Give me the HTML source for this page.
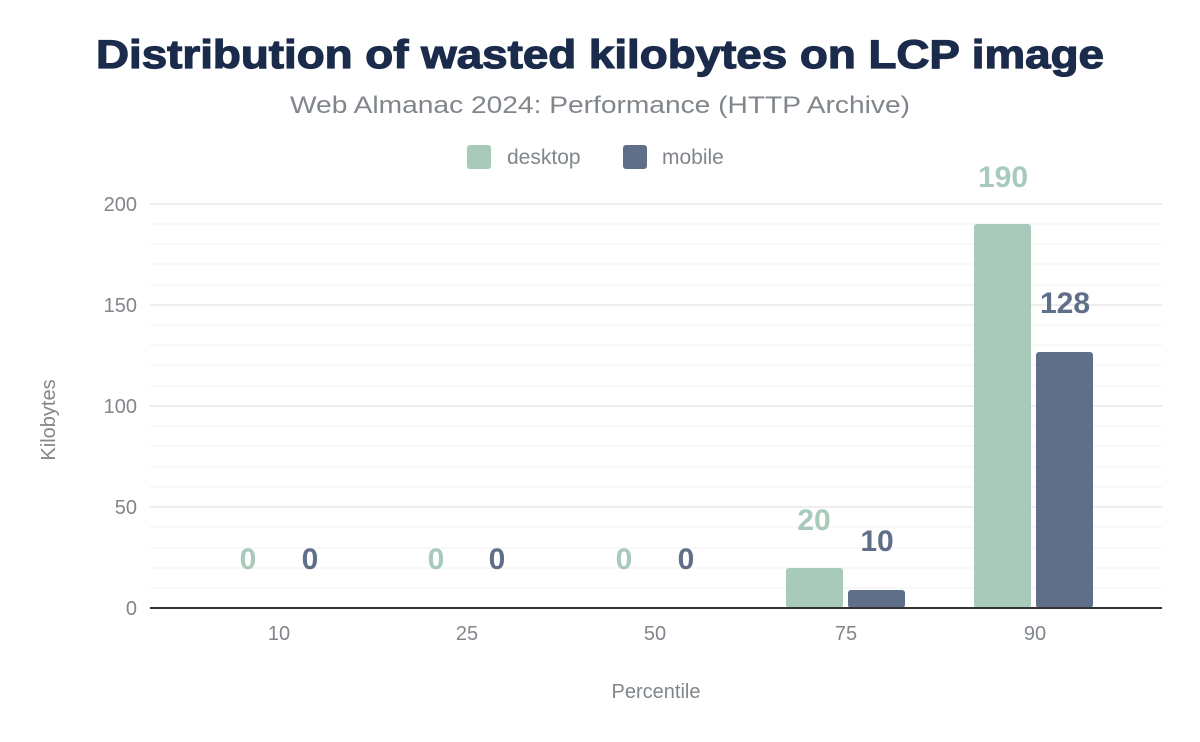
<!DOCTYPE html>
<html><head><meta charset="utf-8"><style>html,body{margin:0;padding:0;background:#fff}svg{display:block}</style></head>
<body>
<svg width="1200" height="742" viewBox="0 0 1200 742" xmlns="http://www.w3.org/2000/svg" font-family="Liberation Sans, Arial, sans-serif">
<rect width="1200" height="742" fill="#fff"/>
<text x="600" y="68" text-anchor="middle" font-size="40" font-weight="bold" fill="#1a2b4b" textLength="1008" lengthAdjust="spacingAndGlyphs" stroke="#1a2b4b" stroke-width="1.2">Distribution of wasted kilobytes on LCP image</text>
<text x="600" y="113" text-anchor="middle" font-size="24" fill="#80868b" textLength="620" lengthAdjust="spacingAndGlyphs">Web Almanac 2024: Performance (HTTP Archive)</text>
<rect x="467" y="145" width="24" height="24" rx="3" fill="#a8cabb"/>
<text x="507" y="164" font-size="21" fill="#80868b">desktop</text>
<rect x="623" y="145" width="24" height="24" rx="3" fill="#5f6e89"/>
<text x="662" y="164" font-size="21" fill="#80868b">mobile</text>
<g stroke="#f5f5f5" stroke-width="1.5">
<line x1="150" x2="1162" y1="588" y2="588"/><line x1="150" x2="1162" y1="568" y2="568"/><line x1="150" x2="1162" y1="548" y2="548"/><line x1="150" x2="1162" y1="527" y2="527"/>
<line x1="150" x2="1162" y1="487" y2="487"/><line x1="150" x2="1162" y1="467" y2="467"/><line x1="150" x2="1162" y1="446" y2="446"/><line x1="150" x2="1162" y1="426" y2="426"/>
<line x1="150" x2="1162" y1="386" y2="386"/><line x1="150" x2="1162" y1="365" y2="365"/><line x1="150" x2="1162" y1="345" y2="345"/><line x1="150" x2="1162" y1="325" y2="325"/>
<line x1="150" x2="1162" y1="285" y2="285"/><line x1="150" x2="1162" y1="264" y2="264"/><line x1="150" x2="1162" y1="244" y2="244"/><line x1="150" x2="1162" y1="224" y2="224"/>
</g>
<g stroke="#eeeeee" stroke-width="2">
<line x1="150" x2="1162" y1="507" y2="507"/><line x1="150" x2="1162" y1="406" y2="406"/><line x1="150" x2="1162" y1="305" y2="305"/><line x1="150" x2="1162" y1="204" y2="204"/>
</g>
<g font-size="20" fill="#80868b" text-anchor="end">
<text x="137" y="615">0</text><text x="137" y="514">50</text><text x="137" y="413">100</text><text x="137" y="312">150</text><text x="137" y="211">200</text>
</g>
<text transform="translate(55,420) rotate(-90)" text-anchor="middle" font-size="20" fill="#80868b">Kilobytes</text>
<rect x="786" y="568" width="57" height="40" rx="3" fill="#a8cabb"/>
<rect x="848" y="590" width="57" height="18" rx="3" fill="#5f6e89"/>
<rect x="974" y="224" width="57" height="384" rx="3" fill="#a8cabb"/>
<rect x="1036" y="352" width="57" height="256" rx="3" fill="#5f6e89"/>
<line x1="150" x2="1162" y1="608" y2="608" stroke="#333" stroke-width="2"/>
<g font-size="20" fill="#80868b" text-anchor="middle">
<text x="279" y="640">10</text><text x="467" y="640">25</text><text x="655" y="640">50</text><text x="846" y="640">75</text><text x="1035" y="640">90</text>
</g>
<text x="656" y="698" text-anchor="middle" font-size="20" fill="#80868b">Percentile</text>
<g font-size="30" font-weight="bold" text-anchor="middle">
<text x="248" y="569" fill="#a8cabb">0</text><text x="310" y="569" fill="#5f6e89">0</text>
<text x="436" y="569" fill="#a8cabb">0</text><text x="497" y="569" fill="#5f6e89">0</text>
<text x="624" y="569" fill="#a8cabb">0</text><text x="686" y="569" fill="#5f6e89">0</text>
<text x="814" y="530" fill="#a8cabb">20</text><text x="877" y="551" fill="#5f6e89">10</text>
<text x="1003" y="187" fill="#a8cabb">190</text><text x="1065" y="313" fill="#5f6e89">128</text>
</g>
</svg>
</body></html>
